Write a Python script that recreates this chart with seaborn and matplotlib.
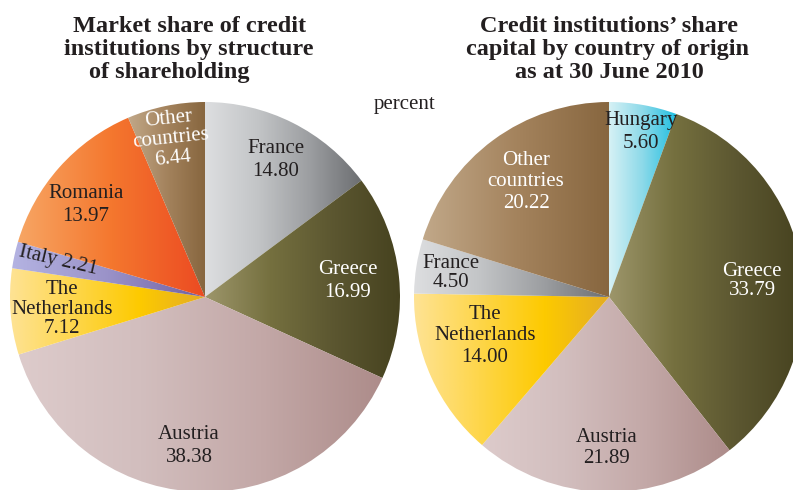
import numpy as np
import seaborn as sns
import matplotlib.pyplot as plt

# data
left_names = ['France', 'Greece', 'Austria', 'Netherlands', 'Italy', 'Romania', 'Other']
left_values = [14.80, 16.99, 38.38, 7.12, 2.21, 13.97, 6.44]
right_names = ['Hungary', 'Greece', 'Austria', 'Netherlands', 'France', 'Other']
right_values = [5.60, 33.79, 21.89, 14.00, 4.50, 20.22]

left_title = ['Market share of credit', 'institutions by structure', 'of shareholding']
right_title = ['Credit institutions\u2019 share', 'capital by country of origin', 'as at 30 June 2010']

# gradient stops, left -> right within each wedge
gradients = {
    'France': ['#dddee0', '#c3c5c7', '#9c9ea1', '#6c6e71'],
    'Greece': ['#9d966b', '#75703f', '#5b5630', '#46421f'],
    'Austria': ['#ddcbcb', '#d2bebe', '#c3a8a7', '#ad8c8a'],
    'Netherlands': ['#fee394', '#fed64a', '#fdca00', '#e3ac25'],
    'Italy': ['#b4b3e2', '#9a92c8', '#7060a2'],
    'Romania': ['#f7a664', '#f4772e', '#ec4a22'],
    'Other': ['#c1a889', '#a4835d', '#87663f'],
    'Hungary': ['#d6f1f5', '#8cd9e9', '#1fbfe1'],
}

sns.set_style('white')
plt.rcParams['font.family'] = ['Liberation Serif', 'DejaVu Serif']

fig = plt.figure(figsize=(7.93, 4.9), dpi=100)
W, H = 793, 490
dark = '#231f20'


def px(x, y):
    return x / W, 1 - y / H


def gradient_pie(ax, names, values):
    wedges, _ = ax.pie(values, startangle=90, counterclock=False, radius=1,
                       wedgeprops=dict(linewidth=0))
    for w, name in zip(wedges, names):
        cmap = sns.blend_palette(gradients[name], as_cmap=True)
        ext = w.get_path().get_extents()
        im = ax.imshow(np.linspace(0, 1, 256).reshape(1, -1), cmap=cmap,
                       extent=[ext.x0, ext.x1, ext.y0, ext.y1],
                       aspect='auto', interpolation='bilinear', zorder=2)
        im.set_clip_path(w)
        w.set_facecolor('none')
    ax.set_xlim(-1, 1)
    ax.set_ylim(-1, 1)
    ax.set_aspect('equal')
    ax.set_axis_off()


r = 195
ax1 = fig.add_axes([(205 - r) / W, (H - 297 - r) / H, 2 * r / W, 2 * r / H])
gradient_pie(ax1, left_names, left_values)
ax2 = fig.add_axes([(609 - r) / W, (H - 297 - r) / H, 2 * r / W, 2 * r / H])
gradient_pie(ax2, right_names, right_values)

# titles
for line, (x, y) in zip(left_title, [(190, 32), (189, 55), (169, 78)]):
    fig.text(*px(x, y), line, ha='center', va='baseline', fontsize=17.5,
             fontweight='bold', color=dark)
for line, (x, y) in zip(right_title, [(609, 32), (608, 55), (609, 78)]):
    fig.text(*px(x, y), line, ha='center', va='baseline', fontsize=17.5,
             fontweight='bold', color=dark)

fig.text(*px(405, 104), 'percent', ha='center', va='center', fontsize=15, color=dark)

# wedge labels
lab = dict(ha='center', va='center', fontsize=15)
fig.text(*px(276, 160), 'France\n14.80', color=dark, linespacing=1.25, **lab)
fig.text(*px(348, 281), 'Greece\n16.99', color='white', linespacing=1.25, **lab)
fig.text(*px(189, 446), 'Austria\n38.38', color=dark, linespacing=1.25, **lab)
fig.text(*px(62, 309), 'The\nNetherlands\n7.12', color=dark, linespacing=1.05, **lab)
fig.text(*px(58, 261), 'Italy 2.21', color=dark, rotation=-13, **lab)
fig.text(*px(86, 205), 'Romania\n13.97', color=dark, linespacing=1.25, **lab)
fig.text(*px(171, 139), 'Other\ncountries\n6.44', color='white', rotation=6,
         linespacing=1.05, **lab)

fig.text(*px(641, 132), 'Hungary\n5.60', color=dark, linespacing=1.25, **lab)
fig.text(*px(526, 182), 'Other\ncountries\n20.22', color='white', linespacing=1.2, **lab)
fig.text(*px(752, 281), 'Greece\n33.79', color='white', linespacing=1.05, **lab)
fig.text(*px(451, 273), 'France\n4.50', color=dark, linespacing=1.0, **lab)
fig.text(*px(485, 336), 'The\nNetherlands\n14.00', color=dark, linespacing=1.15, **lab)
fig.text(*px(607, 448), 'Austria\n21.89', color=dark, linespacing=1.1, **lab)

fig.savefig('out.png', dpi=100)
